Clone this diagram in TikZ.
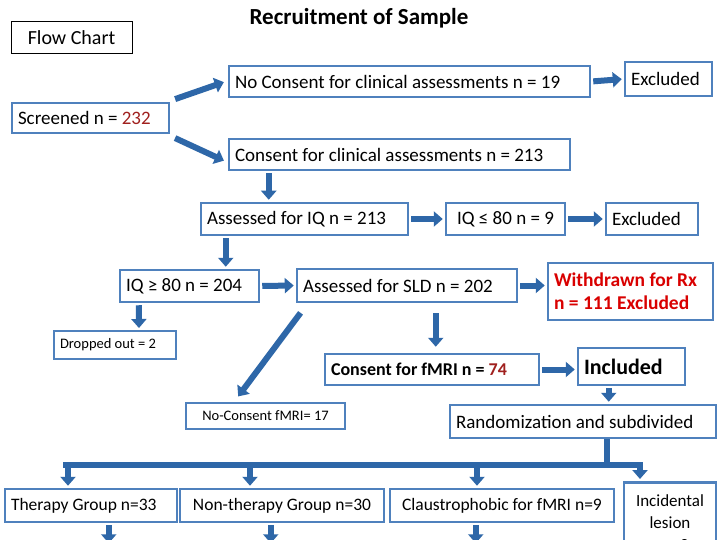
\documentclass[tikz,border=0pt]{standalone}
\usepackage{fontspec}
\setmainfont{Carlito}
\usetikzlibrary{arrows.meta,calc}
\definecolor{bb}{HTML}{4F81BD}
\definecolor{ab}{HTML}{2E67A8}
\definecolor{dr}{HTML}{A0201E}
\begin{document}
\begin{tikzpicture}[x=1pt,y=-1pt,
  box/.style={draw=bb,line width=2.5pt,fill=white,inner xsep=6pt,inner ysep=0pt,align=flush left,font=\fontsize{19}{22}\selectfont},
  sm/.style={box,line width=2pt,font=\fontsize{14.5}{16}\selectfont},
  bt/.style={box,font=\fontsize{17.5}{20}\selectfont},
  tw/.style={text width=#1-12pt},
  arr/.style={draw=ab,line width=6pt,-{Triangle[width=15pt,length=9pt]},shorten <=2pt,shorten >=2pt},
  bar/.style={draw=ab,line width=6pt}]
\useasboundingbox (0,0) rectangle (720,540);
\clip (0,0) rectangle (720,540);
\fill[white] (0,0) rectangle (720,540);
\node[draw=black,line width=1pt,inner sep=0pt,minimum width=121pt,minimum height=32pt,font=\fontsize{20}{22}\selectfont] (flow) at (71.5,38) {Flow Chart};
\node[font=\bfseries\fontsize{23}{26}\selectfont] (title) at (359,18) {Recruitment of Sample};
\node[box,tw=361pt,minimum height=31pt] (noc) at (409.5,81.5) {No Consent for clinical assessments n = 19};
\node[box,tw=87pt,minimum height=34pt] (exc1) at (668.5,79) {Excluded};
\node[box,tw=157pt,minimum height=30pt] (scr) at (90.5,118) {Screened n = \textcolor{dr}{232}};
\node[box,tw=341pt,minimum height=31pt] (con) at (399.5,154.5) {Consent for clinical assessments n = 213};
\node[box,tw=207pt,minimum height=32pt] (aiq) at (304.5,219) {Assessed for IQ n = 213};
\node[box,minimum width=119pt,minimum height=32pt] (iql) at (505.5,219) {IQ ≤ 80 n = 9};
\node[box,tw=92pt,minimum height=32pt] (exc2) at (652,219) {Excluded};
\node[box,tw=139pt,minimum height=32pt] (iqg) at (189.5,286) {IQ ≥ 80 n = 204};
\node[box,tw=220pt,minimum height=33pt] (sld) at (407,285.5) {Assessed for SLD n = 202};
\node[box,tw=165pt,minimum height=57pt,text=red!85!black,font=\bfseries\fontsize{19.5}{23}\selectfont] (wd) at (630.5,291.5) {Withdrawn for Rx\\n = 111 Excluded};
\node[sm,tw=122pt,minimum height=28pt] (drop) at (115,345) {Dropped out = 2};
\node[box,tw=214pt,minimum height=31pt,font=\bfseries\fontsize{18}{21}\selectfont] (cf) at (432,369.5) {Consent for fMRI n = \textcolor{dr}{74}};
\node[box,tw=107pt,minimum height=37pt,font=\bfseries\fontsize{22}{24}\selectfont] (inc) at (631.5,366.5) {Included};
\node[sm,minimum width=159pt,minimum height=26pt] (ncf) at (265.5,416) {No-Consent fMRI= 17};
\node[box,tw=266pt,minimum height=33pt] (rnd) at (583,421.5) {Randomization and subdivided};
\node[bt,tw=172pt,minimum height=33pt] (th) at (91,505.5) {Therapy Group n=33};
\node[bt,minimum width=204pt,minimum height=33pt] (nth) at (282,505.5) {Non-therapy Group n=30};
\node[bt,minimum width=224pt,minimum height=33pt] (cl) at (502,505.5) {Claustrophobic for fMRI n=9};
\node[bt,text width=80pt,minimum height=80pt,anchor=north,align=center,font=\fontsize{17}{22}\selectfont] (il) at (670,481) {Incidental\\lesion\\n = 2};
% arrows
\draw[arr] ($(scr.north east)+(3,-2)$) -- ($(noc.west)+(-2,0)$);
\draw[arr] ($(scr.south east)+(3,3)$) -- ($(con.west)+(-2,7)$);
\draw[arr] (noc.east) -- (exc1.west);
\draw[arr] ($(con.south west)+(41,0)$) -- ($(aiq.north west)+(69,0)$);
\draw[arr] (aiq.east) -- (iql.west);
\draw[arr] (iql.east) -- (exc2.west);
\draw[arr] ($(aiq.south west)+(26,0)$) -- ($(iqg.north west)+(107,0)$);
\draw[arr] (iqg.east) -- (sld.west);
\draw[arr] (sld.east) -- (wd.west |- sld.east);
\draw[arr] ($(iqg.south west)+(20,0)$) -- ($(drop.north west)+(86,0)$);
\draw[arr] ($(sld.south west)+(6,8)$) -- ($(ncf.north west)+(52,-4)$);
\draw[arr] ($(sld.south west)+(140,8)$) -- ($(cf.north west)+(112,-4)$);
\draw[arr] (cf.east) -- (inc.west |- cf.east);
\draw[arr] ($(inc.south west)+(32,0)$) -- ($(rnd.north west)+(160,0)$);
% distribution bar
\coordinate (bl) at (63,465);
\coordinate (br) at (643,465);
\draw[bar] ($(rnd.south west)+(158,0)$) -- ($(rnd.south west)+(158,27)$);
\draw[bar] (bl) -- (br);
\draw[arr,shorten <=0pt] ($(bl)+(5,0)$) -- (th.north -| 68,0);
\draw[arr,shorten <=0pt] (250,465) -- (nth.north -| 250,0);
\draw[arr,shorten <=0pt] (477,465) -- (cl.north -| 477,0);
\draw[arr,shorten <=0pt] ($(br)+(-3,0)$) -- (il.north -| 640,0);
\draw[arr] ($(th.south west)+(105,0)$) -- ++(0,22);
\draw[arr] ($(nth.south west)+(92,0)$) -- ++(0,22);
\draw[arr] ($(cl.south west)+(87,0)$) -- ++(0,22);
\end{tikzpicture}
\end{document}
